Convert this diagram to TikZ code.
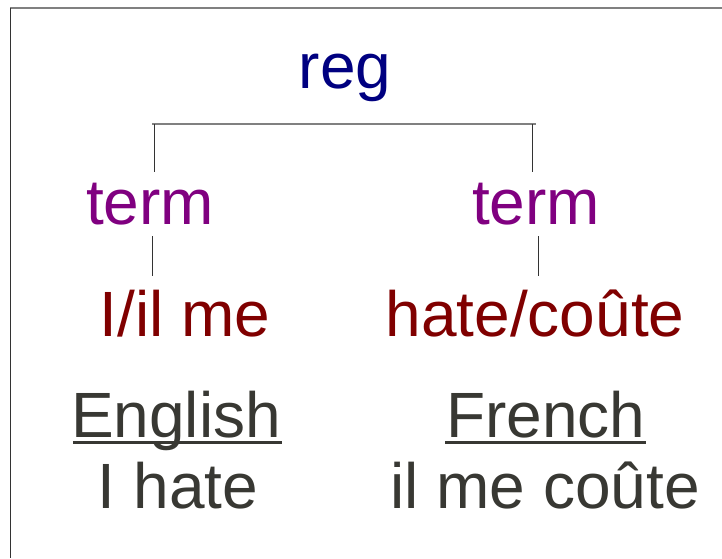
\documentclass[tikz,border=0pt]{standalone}
\usepackage{fontspec}
\setmainfont{Liberation Sans}
\definecolor{regc}{HTML}{000080}
\definecolor{termc}{HTML}{800080}
\definecolor{wordc}{HTML}{800000}
\definecolor{txtc}{HTML}{383833}
\definecolor{hlc}{HTML}{808080}
\definecolor{vlc}{HTML}{333333}
\begin{document}
\begin{tikzpicture}[x=1pt,y=-1pt,
  lbl/.style={inner sep=0pt,anchor=base,font=\fontsize{64}{71}\selectfont},
  regstyle/.style={lbl,text=regc},
  termstyle/.style={lbl,text=termc},
  wordstyle/.style={lbl,text=wordc},
  langstyle/.style={lbl,text=txtc,align=center},
  hline/.style={draw=hlc,line width=1.3pt},
  vline/.style={draw=vlc,line width=1pt},
  uline/.style={draw=txtc,line width=3pt},
  frameh/.style={draw=hlc,line width=1.2pt},
  framev/.style={draw=vlc,line width=1pt}]
\useasboundingbox (0,0) rectangle (722,558);
% frame
\coordinate (f1) at (722,8);
\coordinate (f2) at (10,8);
\coordinate (f3) at (10,558);
\draw[frameh] (f1) -- (f2);
\draw[framev] (f2) -- (f3);
% nodes
\node[regstyle] (reg) at (345,88) {reg};
\node[termstyle] (t1) at (150,224) {term};
\node[termstyle] (t2) at (536,224) {term};
\node[wordstyle] (w1) at (185,336) {I/il me};
\node[wordstyle] (w2) at (535,336) {hate/coûte};
\node[langstyle] (en) at (176,437) {English};
\node[langstyle] (enx) at (178,508) {I hate};
\node[langstyle] (fr) at (546,437) {French};
\node[langstyle] (frx) at (545,508) {il me coûte};
% underlines
\draw[uline] ([xshift=2pt,yshift=-5pt]en.base west) -- ([xshift=1pt,yshift=-5pt]en.base east);
\draw[uline] ([xshift=-1pt,yshift=-5pt]fr.base west) -- ([xshift=0pt,yshift=-5pt]fr.base east);
% tree connectors
\coordinate (hl) at (152,124);
\coordinate (hr) at (536,124);
\coordinate (v1a) at (154,124);
\coordinate (v1b) at (154,172);
\coordinate (v2a) at (532,124);
\coordinate (v2b) at (532,172);
\coordinate (u1a) at (152,236);
\coordinate (u1b) at (152,276);
\coordinate (u2a) at (538,236);
\coordinate (u2b) at (538,276);
\draw[hline] (hl) -- (hr);
\draw[vline] (v1a) -- (v1b);
\draw[vline] (v2a) -- (v2b);
\draw[vline] (u1a) -- (u1b);
\draw[vline] (u2a) -- (u2b);
\end{tikzpicture}
\end{document}
